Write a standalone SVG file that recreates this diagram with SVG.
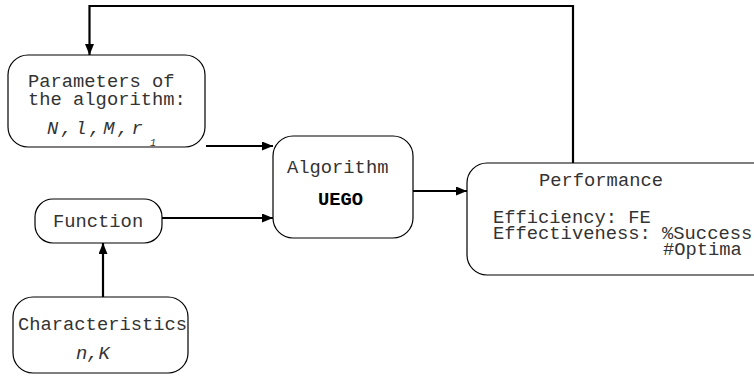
<svg xmlns="http://www.w3.org/2000/svg" width="754" height="376" viewBox="0 0 754 376">
<defs>
<marker id="ah" markerWidth="12" markerHeight="9" refX="11" refY="4.5" orient="auto" markerUnits="userSpaceOnUse">
<path d="M0,0 L11,4.5 L0,9 Z" fill="#000"/>
</marker>
<style>
.box{fill:#fff;stroke:#000;stroke-width:1.2}
.t{font-family:"Liberation Mono","Courier New",monospace;font-size:18.8px;fill:#333}
.i{font-style:italic}
.b{font-weight:bold;fill:#000}
.s{font-size:10px;fill:#333}
.c{fill:none;stroke:#000;stroke-width:2.2}
</style>
</defs>
<rect width="754" height="376" fill="#fff"/>
<g id="connectors">
<path class="c" d="M573,163 V6 H89.5 V55" marker-end="url(#ah)"/>
<path class="c" d="M206,146 H273" marker-end="url(#ah)"/>
<path class="c" d="M162,218 H273" marker-end="url(#ah)"/>
<path class="c" d="M413,191 H467" marker-end="url(#ah)"/>
<path class="c" d="M103,297 V243" marker-end="url(#ah)"/>
</g>
<g id="params">
<rect class="box" x="8" y="55" width="197" height="92" rx="20"/>
<text class="t" x="28" y="87">Parameters of</text>
<text class="t" x="28" y="105">the algorithm:</text>
<text class="t i" x="47" y="134" letter-spacing="2.8">N,l,M,r</text>
<text class="t i s" x="150" y="146">1</text>
</g>
<g id="algorithm">
<rect class="box" x="273" y="136" width="140" height="102" rx="20"/>
<text class="t" x="287" y="173">Algorithm</text>
<text class="t b" x="318" y="205">UEGO</text>
</g>
<g id="performance">
<rect class="box" x="467" y="163" width="310" height="112" rx="20"/>
<text class="t" x="539" y="186">Performance</text>
<text class="t" x="493" y="223">Efficiency: FE</text>
<text class="t" x="493" y="239">Effectiveness: %Success</text>
<text class="t" x="663" y="255">#Optima</text>
</g>
<g id="function">
<rect class="box" x="35" y="199" width="127" height="44" rx="18"/>
<text class="t" x="53" y="227">Function</text>
</g>
<g id="characteristics">
<rect class="box" x="13" y="297" width="175" height="76" rx="20"/>
<text class="t" x="18" y="330">Characteristics</text>
<text class="t i" x="76" y="359">n,K</text>
</g>
</svg>
